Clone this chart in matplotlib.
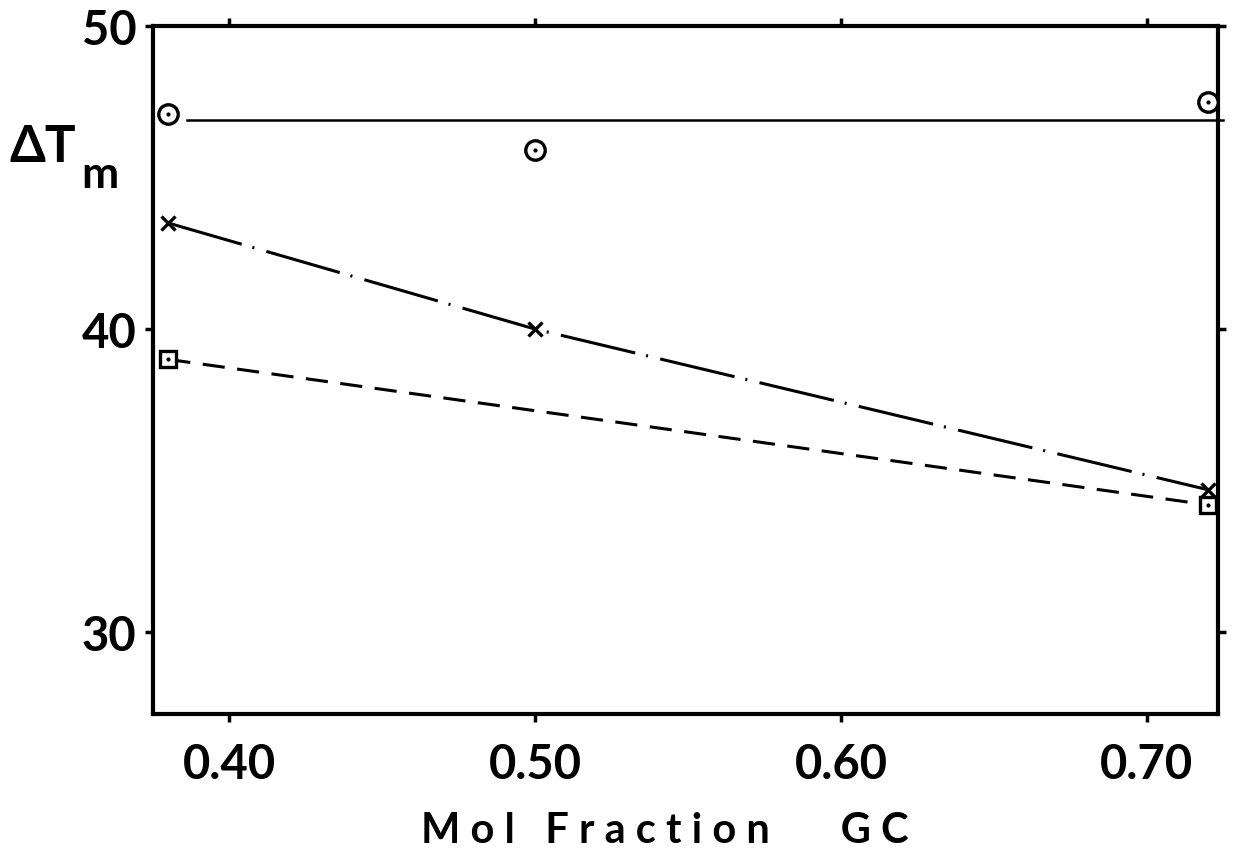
import matplotlib
matplotlib.use("Agg")
import matplotlib.pyplot as plt

plt.rcParams['font.family'] = ['Lato', 'DejaVu Sans']
plt.rcParams['lines.scale_dashes'] = False

# Data
gc = [0.38, 0.50, 0.72]
circles = [47.1, 45.9, 47.5]
crosses = [43.5, 40.0, 34.7]
squares_x = [0.38, 0.72]
squares = [39.0, 34.2]
mean_line_x = [0.386, 0.725]
mean_line_y = [46.9, 46.9]

xticks = [0.40, 0.50, 0.60, 0.70]
xticklabels = ['0.40', '0.50', '0.60', '0.70']
yticks = [30, 40, 50]
yticklabels = ['30', '40', '50']

fig = plt.figure(figsize=(12.35, 8.53), dpi=100)
ax = fig.add_axes([0.1239, 0.1618, 0.8623, 0.8065])
ax.set_xlim(0.375, 0.7233)
ax.set_ylim(27.3, 50)

# horizontal mean line
ax.plot(mean_line_x, mean_line_y, color='black', lw=1.8, clip_on=False)
# dash-dot line through crosses
ax.plot(gc, crosses, color='black', lw=2.2, dashes=(55, 8, 1.5, 9))
# dashed line through squares
ax.plot(squares_x, squares, color='black', lw=2.2, dashes=(16, 9))

# markers
ax.plot(gc, circles, ls='none', marker='o', ms=14, mfc='white', mec='black', mew=2.4, clip_on=False, zorder=5)
ax.plot(gc, circles, ls='none', marker='.', ms=4, color='black', clip_on=False, zorder=6)
ax.plot(gc, crosses, ls='none', marker='x', ms=10, mec='black', mew=2.4, clip_on=False, zorder=5)
ax.plot(squares_x, squares, ls='none', marker='s', ms=11, mfc='white', mec='black', mew=2.4, clip_on=False, zorder=5)
ax.plot(squares_x, squares, ls='none', marker='.', ms=4, color='black', clip_on=False, zorder=6)

for s in ax.spines.values():
    s.set_linewidth(3)

ax.set_xticks(xticks)
ax.set_xticklabels(xticklabels, fontsize=34, fontweight='bold')
ax.set_yticks(yticks)
ax.set_yticklabels(yticklabels, fontsize=34, fontweight='bold')
ax.tick_params(axis='both', direction='out', length=6, width=2.5, top=True, right=True)
ax.tick_params(axis='x', pad=14)
ax.tick_params(axis='y', pad=6)

ax.set_xlabel('M o l   F r a c t i o n       G C', fontsize=30, fontweight='bold', labelpad=18)
ax.xaxis.label.set_x(0.481)

fig.text(0.008, 0.810, 'ΔT', fontsize=37, fontweight='bold', ha='left', va='baseline')
fig.text(0.066, 0.780, 'm', fontsize=32, fontweight='bold', ha='left', va='baseline')

fig.savefig('out.png', dpi=100)
